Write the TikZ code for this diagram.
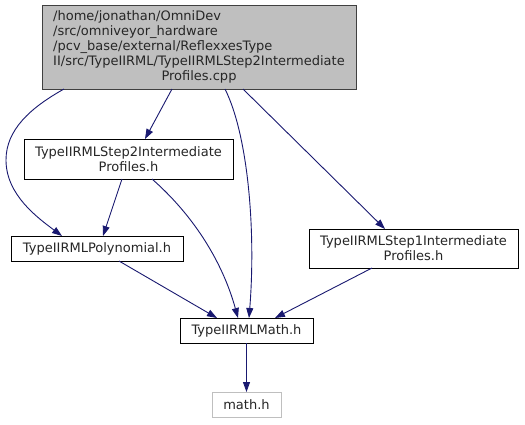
\documentclass[tikz,border=0pt]{standalone}
\usepackage{fontspec}
\setmainfont{DejaVu Sans}
\usetikzlibrary{arrows.meta}
\definecolor{edgeblue}{HTML}{191970}
\definecolor{mainfill}{HTML}{BFBFBF}
\definecolor{mainborder}{HTML}{404040}
\definecolor{greyborder}{HTML}{BFBFBF}
\begin{document}
\begin{tikzpicture}[x=1pt,y=-1pt,
  every node/.style={font=\fontsize{13}{15}\selectfont, inner sep=0pt, outer sep=0pt},
  filebox/.style={draw=black, line width=1pt, fill=white, align=center, text=black!85},
  mainbox/.style={draw=mainborder, line width=1pt, fill=mainfill, text=black!85},
  extbox/.style={draw=greyborder, line width=1pt, fill=white, text=black!85},
  dep/.style={draw=edgeblue, line width=0.9pt, -{Triangle[length=10pt,width=7pt]}}
]
\useasboundingbox (0,0) rectangle (525,424);
\fill[white] (0,0) rectangle (525,424);

\node[mainbox, minimum width=314pt, minimum height=84pt] (main) at (199,47)
  {\begin{tabular}{@{}l@{}}/home/jonathan/OmniDev\\/src/omniveyor\_hardware\\/pcv\_base/external/ReflexxesType\\II/src/TypeIIRML/TypeIIRMLStep2Intermediate\\\multicolumn{1}{@{}c@{}}{Profiles.cpp}\end{tabular}};
\node[filebox, minimum width=209pt, minimum height=40pt] (step2) at (128.5,159)
  {TypeIIRMLStep2Intermediate\\Profiles.h};
\node[filebox, minimum width=172pt, minimum height=25pt] (poly) at (97,248.5)
  {TypeIIRMLPolynomial.h};
\node[filebox, minimum width=209pt, minimum height=39pt] (step1) at (413.5,248.5)
  {TypeIIRMLStep1Intermediate\\Profiles.h};
\node[filebox, minimum width=133pt, minimum height=25pt] (math) at (246.5,330.5)
  {TypeIIRMLMath.h};
\node[extbox, minimum width=69pt, minimum height=25pt] (mathh) at (246.5,404.5)
  {math.h};

% main -> polynomial
\draw[dep] ([xshift=22pt]main.south west) .. controls (30,108) and (6,130) .. (6,160)
  .. controls (6,195) and (38,218) .. ([xshift=51pt]poly.north west);
% main -> step2
\draw[dep] ([xshift=130pt]main.south west) -- ([xshift=121pt]step2.north west);
% main -> math
\draw[dep] ([xshift=183pt]main.south west) .. controls (248,135) and (256,230) .. ([xshift=69pt]math.north west);
% main -> step1
\draw[dep] ([xshift=201pt]main.south west) -- ([xshift=76pt]step1.north west);
% step2 -> polynomial
\draw[dep] ([xshift=98pt]step2.south west) -- ([xshift=92pt]poly.north west);
% step2 -> math
\draw[dep] ([xshift=128pt]step2.south west) .. controls (192,214) and (222,260) .. ([xshift=58pt]math.north west);
% polynomial -> math
\draw[dep] ([xshift=108pt]poly.south west) -- ([xshift=37pt]math.north west);
% step1 -> math
\draw[dep] ([xshift=63pt]step1.south west) -- ([xshift=95pt]math.north west);
% math -> math.h
\draw[dep] (math.south) -- (mathh.north);
\end{tikzpicture}
\end{document}
